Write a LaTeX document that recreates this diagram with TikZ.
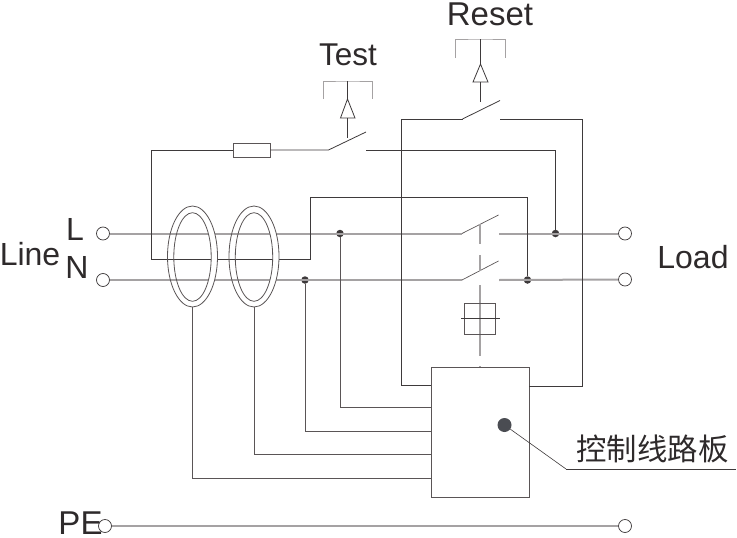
\documentclass[tikz,border=0pt]{standalone}
\usepackage{fontspec}
\setmainfont{Liberation Sans}
\newfontfamily\cjkfont{Noto Sans CJK SC}
\definecolor{inkdark}{HTML}{3E3A3B}
\definecolor{inktext}{HTML}{2E2A2B}
\definecolor{inkwire}{HTML}{5A5556}
\definecolor{inkgray}{HTML}{A5A2A3}
\definecolor{inkdot}{HTML}{4A4C52}
\tikzset{
	wire/.style={draw=inkdark,line width=0.8pt},
	mainwire/.style={draw=inkgray,line width=2pt},
	thinbox/.style={draw=inkwire,line width=1pt,inner sep=0pt,fill=white},
	terminal/.style={circle,draw=inkdark,line width=0.7pt,fill=white,inner sep=0pt,minimum size=13pt},
	junction/.style={circle,fill=inkdark,inner sep=0pt,minimum size=7.5pt},
	caption/.style={text=inktext,inner sep=0pt,font=\fontsize{32}{32}\selectfont},
	pushtip/.style={draw=inkdark,line width=0.8pt,fill=white}
}
\begin{document}
\begin{tikzpicture}[x=1pt,y=-1pt]
		\useasboundingbox (0,0) rectangle (737,538);
		
		% terminals and junctions
		\node[terminal] (lineL) at (103,233.5) {};
		\node[terminal] (lineN) at (103,280) {};
		\node[terminal] (loadL) at (625,233.5) {};
		\node[terminal] (loadN) at (625,279.5) {};
		\node[terminal,fill=none] (peL) at (105,526) {};
		\node[terminal] (peR) at (625,526) {};
		\node[junction] (jointA) at (340,233.5) {};
		\node[junction] (jointB) at (305,280) {};
		\node[junction] (jointC) at (555.5,233.5) {};
		\node[junction] (jointD) at (527.5,280) {};
		
		% switch points
		\coordinate (swLa) at (462,233.5);
		\coordinate (swLb) at (498.5,215);
		\coordinate (swLc) at (499,233.5);
		\coordinate (swNa) at (462,280);
		\coordinate (swNb) at (498.5,261);
		\coordinate (swNc) at (499,280);
		\coordinate (swTa) at (328.5,150);
		\coordinate (swTb) at (366,132);
		\coordinate (swTc) at (366,150);
		\coordinate (swRa) at (462.5,119);
		\coordinate (swRb) at (500,100.5);
		\coordinate (swRc) at (500,119);
		
		% main lines
		\draw[mainwire] (lineL) -- (swLa);
		\draw[mainwire] (swLc) -- (loadL);
		\draw[mainwire] (lineN) -- (swNa);
		\draw[mainwire] (swNc) -- (loadN);
		\draw[mainwire] (peL) -- (peR);
		\draw[draw=inkwire,line width=0.7pt] (swLa) -- (swLb);
		\draw[draw=inkwire,line width=0.7pt] (swNa) -- (swNb);
		
		% test branch
		\node[thinbox,minimum width=37pt,minimum height=14pt] (fuse) at (251.5,150) {};
		\coordinate (loopA) at (151,150);
		\coordinate (loopB) at (151,259);
		\coordinate (loopC) at (310.5,259);
		\coordinate (loopD) at (310.5,197);
		\draw[wire] (fuse) -- (loopA) -- (loopB) -- (loopC) -- (loopD) -| (jointD);
		\draw[wire] (fuse) -- (swTa) -- (swTb);
		\draw[wire] (swTc) -| (jointC);
		
		% control board and its wires
		\node[thinbox,anchor=north west,minimum width=98.5pt,minimum height=130pt] (board) at (430.5,367) {};
		\coordinate (portA) at (430.5,385.5);
		\coordinate (portB) at (430.5,407.5);
		\coordinate (portC) at (430.5,431.5);
		\coordinate (portD) at (430.5,454.5);
		\coordinate (portE) at (430.5,478);
		\coordinate (portF) at (529,386);
		\coordinate (ringlead) at (192.5,307);
		\coordinate (ringleadb) at (254,307);
		\draw[wire] (swRa) -- (401,119) -- (401,385.5) -- (portA);
		\draw[wire] (swRa) -- (swRb);
		\draw[wire] (swRc) -- (582,119) -- (582,386) -- (portF);
		\draw[draw=inkwire,line width=0.9pt] (jointA) |- (portB);
		\draw[draw=inkwire,line width=0.9pt] (jointB) |- (portC);
		\draw[draw=inkwire,line width=0.9pt] (ringleadb) |- (portD);
		\draw[draw=inkwire,line width=0.9pt] (ringlead) |- (portE);
		
		% rings
		\foreach \cx in {192.5,254}{
			\begin{scope}
				\clip (\cx,200) rectangle (\cx+30,312);
				\fill[white,even odd rule] (\cx,256.5) ellipse [x radius=25,y radius=50.5] (\cx,257) ellipse [x radius=18.7,y radius=44.3];
			\end{scope}
			\draw[draw=inkwire,line width=0.8pt] (\cx,256.5) ellipse [x radius=25,y radius=50.5];
			\draw[draw=inkwire,line width=0.8pt] (\cx,257) ellipse [x radius=18.7,y radius=44.3];
		}
		
		% linked switches and coil
		\coordinate (linkA) at (480,224);
		\coordinate (linkB) at (480,244);
		\coordinate (linkC) at (480,255);
		\coordinate (linkD) at (480,271);
		\coordinate (linkE) at (480,285);
		\coordinate (linkF) at (480,356);
		\coordinate (linkG) at (480,366);
		\draw[mainwire,line width=1.4pt] (linkA) -- (linkB);
		\draw[mainwire,line width=1.4pt] (linkC) -- (linkD);
		\draw[mainwire,line width=1.4pt] (linkE) -- (linkF);
		\draw[mainwire,line width=1.4pt] (linkG) -- (board.north -| linkG);
		\node[draw=inkwire,line width=1pt,inner sep=0pt,minimum width=31pt,minimum height=31pt] (coil) at (480,318.5) {};
		\coordinate (coilA) at (461,318.5);
		\coordinate (coilB) at (499.5,318.5);
		\draw[wire] (coilA) -- (coilB);
		
		% push buttons
		\coordinate (testL) at (323,99);
		\coordinate (testM) at (347.5,81);
		\coordinate (testR) at (372,99);
		\coordinate (testTip) at (347.5,99);
		\coordinate (testBase) at (347.5,118);
		\coordinate (testPin) at (347.5,138);
		\draw[mainwire,line width=1pt] (testL) |- (testM) -| (testR);
		\draw[wire] (testM) -- (testTip);
		\draw[pushtip] (testTip) -- (355,118) -- (340.5,118) -- cycle;
		\draw[wire] (testBase) -- (testPin);
		\coordinate (resetL) at (455.5,58);
		\coordinate (resetM) at (480.5,39);
		\coordinate (resetR) at (505,58);
		\coordinate (resetTip) at (480.5,64);
		\coordinate (resetBase) at (480.5,82);
		\coordinate (resetPin) at (480.5,102);
		\draw[mainwire,line width=1pt] (resetL) |- (resetM) -| (resetR);
		\draw[wire] (resetM) -- (resetTip);
		\draw[pushtip] (resetTip) -- (488,82) -- (473,82) -- cycle;
		\draw[wire] (resetBase) -- (resetPin);
		
		% board label
		\node[circle,fill=inkdot,inner sep=0pt,minimum size=14pt] (boardDot) at (504.5,425) {};
		\coordinate (leaderA) at (566,469);
		\coordinate (leaderB) at (736,469);
		\draw[draw=inkdark,line width=0.6pt] (boardDot) -- (leaderA);
		\draw[wire] (leaderA) -- (leaderB);
		
		\node[caption,font=\fontsize{33}{33}\selectfont] (resetText) at (490,14) {Reset};
		\node[caption,font=\fontsize{31.5}{32}\selectfont] (testText) at (348,55) {Test};
		\node[caption] (lineText) at (30,254) {Line};
		\node[caption] (lText) at (75,229) {L};
		\node[caption] (nText) at (77,267) {N};
		\node[caption] (loadText) at (693,257) {Load};
		\node[caption,font=\fontsize{33}{33}\selectfont] (peText) at (80.5,523) {PE};
		\node[text=inktext,inner sep=0pt,font=\cjkfont\fontsize{30.4}{31}\selectfont] (boardText) at (652.5,449) {控制线路板};
		
	\end{tikzpicture}
\end{document}
